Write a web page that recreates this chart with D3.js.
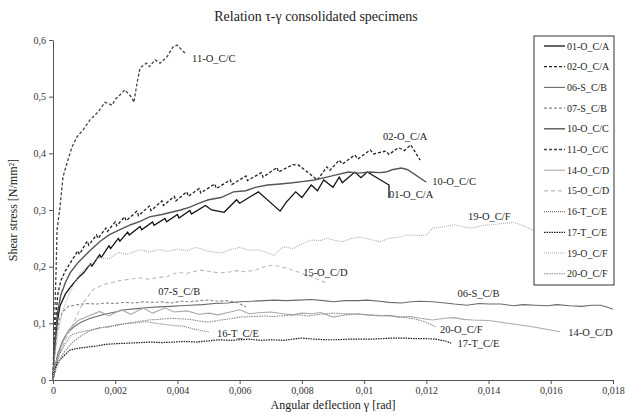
<!DOCTYPE html>
<html>
<head>
<meta charset="utf-8">
<script src="https://cdn.jsdelivr.net/npm/d3@7"></script>
<style>
  body { margin: 0; background: #fff; }
  svg text { font-family: "Liberation Serif", "Times New Roman", serif; }
  .axis path, .axis line { stroke: #555; }
  .axis text { font-size: 10px; fill: #333; font-family: "Liberation Serif", "Times New Roman", serif; }
</style>
</head>
<body>
<svg id="chart" width="625" height="416"></svg>
<script>
(function() {

// ---- data ----
const seriesNames = ['01-O_C/A', '02-O_C/A', '06-S_C/B', '07-S_C/B', '10-O_C/C', '11-O_C/C',
                     '14-O_C/D', '15-O_C/D', '16-T_C/E', '17-T_C/E', '19-O_C/F', '20-O_C/F'];

const s01 = [[0,0],[0.00003,0.035],[0.00007,0.065],[0.00013,0.1],[0.00022,0.13],[0.0004,0.152],[0.00055,0.163],[0.0008,0.18],[0.001,0.19],
  [0.0012,0.205],[0.00125,0.201],[0.0015,0.221],[0.00155,0.216],[0.0018,0.237],[0.00185,0.232],[0.0021,0.25],[0.00215,0.245],[0.0024,0.261],[0.00245,0.256],
  [0.0028,0.271],[0.00285,0.265],[0.0032,0.279],[0.00325,0.273],[0.0036,0.285],[0.00365,0.279],[0.004,0.292],[0.00405,0.286],[0.0044,0.299],[0.00445,0.293],
  [0.0049,0.308],[0.0051,0.3],[0.0055,0.296],[0.0059,0.318],[0.006,0.312],[0.0063,0.322],[0.0066,0.332],[0.0073,0.298],[0.0075,0.314],[0.0078,0.332],
  [0.008,0.322],[0.0083,0.344],[0.0085,0.334],[0.0087,0.353],[0.009,0.34],[0.0092,0.358],[0.0093,0.348],[0.0097,0.367],[0.0099,0.357],[0.0101,0.367],
  [0.0108,0.344],[0.0108,0.321]];

const s02 = [[0,0],[0.00003,0.05],[0.00008,0.1],[0.00015,0.15],[0.00025,0.175],[0.0004,0.193],[0.00055,0.206],[0.0008,0.228],[0.00085,0.222],
  [0.0011,0.245],[0.00115,0.238],[0.0014,0.256],[0.00145,0.25],[0.0017,0.268],[0.00175,0.262],[0.002,0.279],[0.00205,0.272],[0.0023,0.288],[0.00235,0.281],
  [0.0027,0.298],[0.00275,0.29],[0.0031,0.307],[0.00315,0.299],[0.0035,0.316],[0.00355,0.308],[0.0039,0.324],[0.00395,0.316],[0.0043,0.332],[0.00435,0.324],
  [0.0047,0.338],[0.00475,0.33],[0.0052,0.346],[0.00525,0.338],[0.0057,0.353],[0.00575,0.345],[0.0062,0.36],[0.00625,0.352],[0.0067,0.366],[0.00675,0.358],
  [0.0072,0.375],[0.00725,0.367],[0.0077,0.38],[0.0079,0.379],[0.0085,0.353],[0.0088,0.376],[0.0089,0.37],[0.0092,0.388],[0.0093,0.381],[0.0097,0.397],
  [0.0098,0.39],[0.0102,0.406],[0.0103,0.399],[0.0107,0.404],[0.0108,0.398],[0.0111,0.41],[0.0113,0.405],[0.0115,0.415],[0.0118,0.388]];

const s06 = [[0,0],[0.00005,0.02],[0.00015,0.045],[0.0003,0.068],[0.00045,0.083],[0.0007,0.095],[0.0009,0.102],[0.0012,0.109],[0.0016,0.115],
  [0.002,0.12],[0.0023,0.124],[0.0027,0.126],[0.0031,0.128],[0.0034,0.129],[0.0038,0.13],[0.0041,0.131],[0.0044,0.132],[0.0048,0.133],[0.0052,0.135],
  [0.0056,0.136],[0.006,0.138],[0.0064,0.139],[0.0068,0.14],[0.0071,0.141],[0.0075,0.14],[0.0079,0.141],[0.0083,0.142],[0.0087,0.14],[0.009,0.138],
  [0.0094,0.14],[0.0098,0.14],[0.0101,0.141],[0.0105,0.139],[0.0108,0.137],[0.0112,0.136],[0.0115,0.138],[0.0118,0.139],[0.0122,0.138],[0.0126,0.136],
  [0.0129,0.134],[0.0133,0.132],[0.0137,0.135],[0.014,0.134],[0.0144,0.134],[0.0148,0.131],[0.0151,0.133],[0.0155,0.132],[0.0159,0.131],[0.0162,0.133],
  [0.0166,0.131],[0.017,0.13],[0.0173,0.132],[0.0176,0.132],[0.0178,0.129],[0.018,0.125]];

const s07 = [[0,0],[0.00005,0.04],[0.00012,0.08],[0.0002,0.105],[0.0003,0.12],[0.0005,0.13],[0.0008,0.133],[0.0011,0.135],[0.0014,0.134],
  [0.0017,0.136],[0.002,0.135],[0.0023,0.137],[0.0026,0.136],[0.0029,0.138],[0.0032,0.137],[0.0035,0.138],[0.0038,0.136],[0.0041,0.139],[0.0044,0.138],
  [0.0047,0.14],[0.005,0.141],[0.0053,0.139],[0.0056,0.14],[0.0059,0.137],[0.0062,0.129]];

const s10 = [[0,0],[0.00003,0.04],[0.00008,0.08],[0.00015,0.12],[0.00025,0.15],[0.0004,0.172],[0.00055,0.189],[0.0008,0.207],[0.001,0.218],
  [0.0012,0.229],[0.0015,0.244],[0.0018,0.256],[0.0021,0.264],[0.0025,0.274],[0.0028,0.28],[0.0031,0.288],[0.0035,0.292],[0.0038,0.296],[0.0041,0.3],
  [0.0044,0.305],[0.0047,0.312],[0.005,0.318],[0.0054,0.322],[0.0058,0.332],[0.0062,0.334],[0.0065,0.34],[0.0069,0.344],[0.0073,0.346],[0.0077,0.348],
  [0.008,0.35],[0.0084,0.353],[0.0088,0.358],[0.0091,0.362],[0.0095,0.367],[0.0098,0.365],[0.0102,0.367],[0.0105,0.366],[0.0107,0.367],[0.0109,0.371],
  [0.0112,0.374],[0.0114,0.371],[0.012,0.349]];

const s11 = [[0,0],[0.00003,0.07],[0.0001,0.194],[0.00013,0.265],[0.000225,0.305],[0.00032,0.358],[0.00045,0.383],[0.00061,0.411],[0.00077,0.429],
  [0.00096,0.441],[0.00119,0.459],[0.00145,0.473],[0.00167,0.49],[0.0019,0.485],[0.002,0.495],[0.00215,0.503],[0.00231,0.512],[0.00254,0.498],
  [0.0026,0.49],[0.0027,0.524],[0.0028,0.551],[0.003,0.559],[0.0031,0.553],[0.00328,0.565],[0.00344,0.559],[0.00366,0.57],[0.00386,0.588],
  [0.00399,0.591],[0.00424,0.577]];

const s14 = [[0,0],[0.0001,0.03],[0.0003,0.065],[0.0005,0.088],[0.0008,0.105],[0.0011,0.112],[0.0015,0.121],[0.0018,0.113],[0.0022,0.124],
  [0.0025,0.116],[0.0029,0.127],[0.0032,0.118],[0.0036,0.127],[0.0039,0.12],[0.0043,0.122],[0.0047,0.116],[0.005,0.118],[0.0053,0.115],[0.0057,0.12],
  [0.006,0.124],[0.0063,0.117],[0.0067,0.119],[0.007,0.12],[0.0074,0.117],[0.0077,0.115],[0.008,0.118],[0.0083,0.117],[0.0086,0.119],[0.009,0.111],
  [0.0094,0.115],[0.0098,0.117],[0.0101,0.115],[0.0105,0.113],[0.0108,0.114],[0.0111,0.111],[0.0115,0.112],[0.0118,0.109],[0.0122,0.106],[0.0126,0.109],
  [0.0129,0.11],[0.0132,0.107],[0.0135,0.106],[0.014,0.105],[0.0144,0.102],[0.0149,0.098],[0.0154,0.094],[0.0159,0.089],[0.0163,0.085]];

const s15 = [[0,0],[0.0001,0.025],[0.0003,0.06],[0.0006,0.094],[0.0009,0.129],[0.0011,0.146],[0.0013,0.16],[0.0016,0.168],[0.0019,0.172],
  [0.0022,0.176],[0.0025,0.178],[0.0028,0.18],[0.0031,0.178],[0.0034,0.181],[0.0037,0.183],[0.004,0.19],[0.0043,0.188],[0.0047,0.194],[0.005,0.192],
  [0.0053,0.189],[0.0056,0.19],[0.0059,0.193],[0.0062,0.191],[0.0065,0.194],[0.0068,0.2],[0.0071,0.203],[0.0073,0.2],[0.0076,0.196],[0.0079,0.19],
  [0.0083,0.182],[0.0088,0.171]];

const s16 = [[0,0],[0.0001,0.025],[0.0002,0.045],[0.0004,0.065],[0.0006,0.08],[0.0009,0.085],[0.0012,0.088],[0.0015,0.092],[0.0018,0.094],
  [0.0021,0.097],[0.0024,0.1],[0.0027,0.101],[0.003,0.103],[0.0033,0.1],[0.0036,0.098],[0.0039,0.096],[0.0042,0.095],[0.0045,0.09],[0.0048,0.087],
  [0.005,0.085]];

const s17 = [[0,0],[0.00005,0.015],[0.00013,0.03],[0.0003,0.04],[0.00055,0.053],[0.0008,0.056],[0.0011,0.058],[0.0014,0.06],[0.0017,0.063],
  [0.002,0.064],[0.0024,0.065],[0.0028,0.066],[0.0031,0.067],[0.0035,0.066],[0.0039,0.067],[0.0042,0.068],[0.0046,0.067],[0.005,0.069],[0.0053,0.071],
  [0.0057,0.07],[0.006,0.071],[0.0063,0.072],[0.0067,0.07],[0.007,0.071],[0.0074,0.07],[0.0077,0.072],[0.008,0.074],[0.0084,0.072],[0.0088,0.071],
  [0.0091,0.071],[0.0095,0.072],[0.0098,0.072],[0.0102,0.072],[0.0106,0.073],[0.0109,0.074],[0.0113,0.074],[0.0116,0.073],[0.012,0.073],[0.0123,0.072],
  [0.0126,0.069],[0.0128,0.065]];

const s19 = [[0,0],[0.00005,0.04],[0.00015,0.08],[0.0003,0.12],[0.0005,0.15],[0.0007,0.172],[0.0009,0.19],[0.0012,0.205],[0.0015,0.216],
  [0.0018,0.214],[0.0021,0.225],[0.0024,0.222],[0.0028,0.23],[0.0031,0.226],[0.0034,0.23],[0.0037,0.227],[0.004,0.231],[0.0043,0.228],[0.0046,0.234],
  [0.005,0.227],[0.0054,0.224],[0.0057,0.23],[0.006,0.234],[0.0063,0.229],[0.0066,0.23],[0.0071,0.22],[0.0074,0.235],[0.0077,0.232],[0.008,0.24],
  [0.0083,0.247],[0.0086,0.246],[0.0088,0.25],[0.0091,0.246],[0.0093,0.244],[0.0096,0.25],[0.0099,0.252],[0.0102,0.248],[0.0105,0.244],[0.0108,0.25],
  [0.0111,0.252],[0.0114,0.256],[0.0118,0.255],[0.012,0.256],[0.0122,0.268],[0.0125,0.27],[0.0129,0.274],[0.0132,0.27],[0.0135,0.268],[0.0138,0.273],
  [0.0141,0.274],[0.0144,0.276],[0.0148,0.278],[0.0151,0.273],[0.0154,0.265],[0.0157,0.258],[0.016,0.252]];

const s20 = [[0,0],[0.0001,0.02],[0.0003,0.045],[0.0006,0.065],[0.0009,0.078],[0.0012,0.087],[0.0015,0.092],[0.0018,0.094],[0.0021,0.098],
  [0.0024,0.1],[0.0027,0.103],[0.0031,0.106],[0.0034,0.107],[0.0038,0.109],[0.0041,0.108],[0.0044,0.107],[0.0047,0.104],[0.005,0.102],[0.0054,0.106],
  [0.0057,0.108],[0.006,0.111],[0.0064,0.112],[0.0068,0.113],[0.0071,0.112],[0.0075,0.114],[0.0079,0.115],[0.0082,0.113],[0.0086,0.116],[0.009,0.118],
  [0.0094,0.117],[0.0098,0.116],[0.0101,0.115],[0.0105,0.114],[0.0109,0.113],[0.0112,0.111],[0.0116,0.108],[0.012,0.102],[0.0123,0.094]];

const xTicks = [0, 0.002, 0.004, 0.006, 0.008, 0.01, 0.012, 0.014, 0.016, 0.018];
const xTickLabels = ['0', '0,002', '0,004', '0,006', '0,008', '0,01', '0,012', '0,014', '0,016', '0,018'];
const yTicks = [0, 0.1, 0.2, 0.3, 0.4, 0.5, 0.6];
const yTickLabels = ['0', '0,1', '0,2', '0,3', '0,4', '0,5', '0,6'];

// in-chart labels: [name, x, y] in data units (left edge, middle of text)
const curveLabels = [
  ['11-O_C/C', 0.00447, 0.568], ['02-O_C/A', 0.01061, 0.43], ['10-O_C/C', 0.01219, 0.351],
  ['01-O_C/A', 0.0108, 0.328], ['19-O_C/F', 0.01334, 0.288], ['15-O_C/D', 0.00804, 0.19],
  ['07-S_C/B', 0.00338, 0.157], ['06-S_C/B', 0.013, 0.1535], ['16-T_C/E', 0.00527, 0.083],
  ['20-O_C/F', 0.01244, 0.09], ['14-O_C/D', 0.01656, 0.085], ['17-T_C/E', 0.013, 0.065]
];

const seriesValues = [s01, s02, s06, s07, s10, s11, s14, s15, s16, s17, s19, s20];

// line styles: colour, width, dash
const styles = {
  '01-O_C/A': ['#111', 1.3, null],
  '02-O_C/A': ['#222', 1.3, '3,2'],
  '06-S_C/B': ['#6a6a6a', 1.1, null],
  '07-S_C/B': ['#888', 1.1, '3,2'],
  '10-O_C/C': ['#555', 1.4, null],
  '11-O_C/C': ['#444', 1.3, '3,2'],
  '14-O_C/D': ['#aaa', 1.1, null],
  '15-O_C/D': ['#bbb', 1.1, '4,3'],
  '16-T_C/E': ['#777', 1.1, '1,1'],
  '17-T_C/E': ['#1a1a1a', 1.2, '1.5,1'],
  '19-O_C/F': ['#b0b0b0', 1.1, '1,1'],
  '20-O_C/F': ['#888', 1.1, '1.5,1']
};

document.addEventListener('DOMContentLoaded', function() {
  drawChart();
});

function drawChart() {
  var svg = d3.select('#chart');
  var margin = {top: 40, right: 12, bottom: 36, left: 53},
      width = +svg.attr('width') - margin.left - margin.right,
      height = +svg.attr('height') - margin.top - margin.bottom;

  var x = d3.scaleLinear().domain([0, 0.018]).range([0, width]);
  var y = d3.scaleLinear().domain([0, 0.6]).range([height, 0]);

  svg.append('text')
      .attr('x', 316)
      .attr('y', 21)
      .attr('text-anchor', 'middle')
      .attr('font-size', 14)
      .attr('fill', '#222')
      .text('Relation τ-γ consolidated specimens');

  var g = svg.append('g')
      .attr('transform', 'translate(' + margin.left + ',' + margin.top + ')');

  g.append('g')
      .attr('class', 'axis')
      .attr('transform', 'translate(0,' + height + ')')
      .call(d3.axisBottom(x).tickValues(xTicks).tickSize(4).tickSizeOuter(0)
            .tickFormat(function(d, i) { return xTickLabels[i]; }));

  g.append('g')
      .attr('class', 'axis')
      .call(d3.axisLeft(y).tickValues(yTicks).tickSize(4).tickSizeOuter(0)
            .tickFormat(function(d, i) { return yTickLabels[i]; }));

  var line = d3.line()
      .x(function(d) { return x(d[0]); })
      .y(function(d) { return y(d[1]); });

  g.append('g')
    .selectAll('path')
      .data(seriesNames)
    .enter().append('path')
      .attr('fill', 'none')
      .attr('stroke', function(d) { return styles[d][0]; })
      .attr('stroke-width', function(d) { return styles[d][1]; })
      .attr('stroke-dasharray', function(d) { return styles[d][2]; })
      .attr('d', function(d, i) { return line(seriesValues[i]); });

  g.append('g')
    .selectAll('text')
      .data(curveLabels)
    .enter().append('text')
      .attr('x', function(d) { return x(d[1]); })
      .attr('y', function(d) { return y(d[2]); })
      .attr('dy', '0.35em')
      .attr('font-size', 10.5)
      .attr('fill', '#222')
      .text(function(d) { return d[0]; });

  // axis titles
  svg.append('text')
      .attr('x', margin.left + width / 2)
      .attr('y', 409)
      .attr('text-anchor', 'middle')
      .attr('font-size', 12)
      .attr('fill', '#222')
      .text('Angular deflection γ [rad]');

  svg.append('text')
      .attr('transform', 'translate(17,' + (margin.top + height / 2) + ') rotate(-90)')
      .attr('text-anchor', 'middle')
      .attr('font-size', 12)
      .attr('fill', '#222')
      .text('Shear stress [N/mm²]');

  // legend
  var legend = svg.append('g').attr('transform', 'translate(534,36)');
  legend.append('rect')
      .attr('width', 80)
      .attr('height', 249)
      .attr('fill', '#fff')
      .attr('stroke', '#333');

  var item = legend.selectAll('.item')
      .data(seriesNames)
    .enter().append('g')
      .attr('class', 'item')
      .attr('transform', function(d, i) { return 'translate(0,' + (10 + i * 20.7) + ')'; });

  item.append('line')
      .attr('x1', 10).attr('x2', 31)
      .attr('stroke', function(d) { return styles[d][0]; })
      .attr('stroke-width', function(d) { return styles[d][1]; })
      .attr('stroke-dasharray', function(d) { return styles[d][2]; });

  item.append('text')
      .attr('x', 33)
      .attr('dy', '0.35em')
      .attr('font-size', 10)
      .attr('fill', '#222')
      .text(function(d) { return d; });
}

})();
</script>
</body>
</html>
